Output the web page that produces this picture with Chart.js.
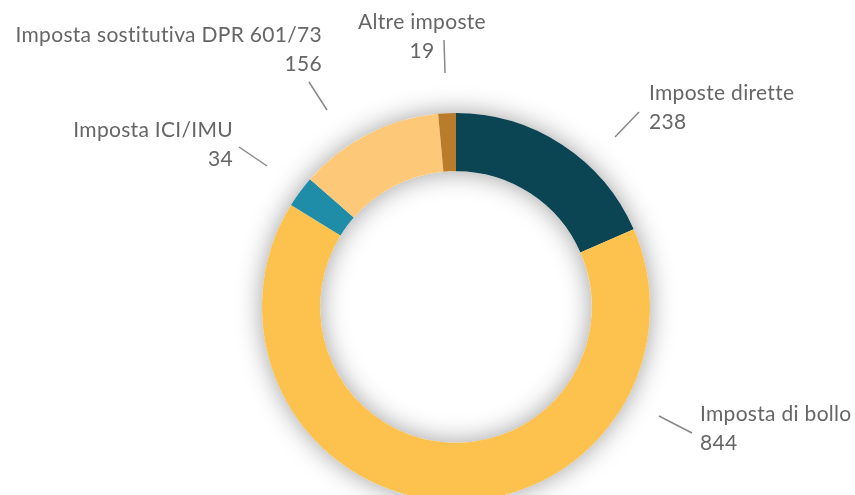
<!DOCTYPE html>
<html>
<head>
<meta charset="utf-8">
<script src="https://cdn.jsdelivr.net/npm/chart.js@4/dist/chart.umd.min.js"></script>
<style>
	html, body { margin: 0; padding: 0; background: #fff; overflow: hidden; }
	#wrap { width: 855px; height: 520px; position: relative; }
</style>
</head>
<body>
<div id="wrap"><canvas id="grafico"></canvas></div>
<script>
const categorie = ['Imposte dirette', 'Imposta di bollo', 'Imposta ICI/IMU', 'Imposta sostitutiva DPR 601/73', 'Altre imposte'];
const valori = [238, 844, 34, 156, 19];
const colori = ['#0b4452', '#fdc24e', '#1f8ca8', '#fdc878', '#b87c2a'];

// posizione etichette rispetto al centro della ciambella (dx, dy), allineamento e linea guida
const etichette = [
	{ dx: 193, dy: -214, align: 'left', linea: [159, -170, 183, -195] },
	{ dx: 244, dy: 107, align: 'left', linea: [203, 109, 236, 126] },
	{ dx: -223, dy: -177, align: 'right', linea: [-217, -160, -189, -141] },
	{ dx: -134, dy: -272, align: 'right', linea: [-147, -225, -129, -197] },
	{ dx: -34, dy: -285, align: 'center', linea: [-12, -267, -11, -234] }
];

const anelloOmbra = {
	id: 'anelloOmbra',
	beforeDatasetsDraw(chart) {
		const arc = chart.getDatasetMeta(0).data[0];
		if (!arc) return;
		const c = chart.ctx;
		c.save();
		c.shadowColor = 'rgba(0,0,0,0.38)';
		c.shadowBlur = 26;
		c.fillStyle = '#fff';
		c.beginPath();
		c.arc(arc.x, arc.y, arc.outerRadius, 0, Math.PI * 2);
		c.arc(arc.x, arc.y, arc.innerRadius, 0, Math.PI * 2, true);
		c.fill();
		c.restore();
	}
};

const etichetteEsterne = {
	id: 'etichetteEsterne',
	afterDatasetsDraw(chart) {
		const meta = chart.getDatasetMeta(0);
		const c = chart.ctx;
		const cx = meta.data[0].x, cy = meta.data[0].y;
		c.save();
		c.font = '21px Lato, "Open Sans", sans-serif';
		c.letterSpacing = '0.3px'; // niente legature
		c.fillStyle = '#666';
		c.strokeStyle = '#888';
		c.lineWidth = 1.5;
		c.textBaseline = 'middle';
		etichette.forEach(function(e, i) {
			const l = e.linea;
			c.beginPath();
			c.moveTo(cx + l[0], cy + l[1]);
			c.lineTo(cx + l[2], cy + l[3]);
			c.stroke();
			c.textAlign = e.align;
			let x = cx + e.dx;
			c.fillText(categorie[i], x, cy + e.dy);
			c.fillText(String(valori[i]), x, cy + e.dy + 29);
		});
		c.restore();
	}
};

new Chart(document.getElementById('grafico'), {
	type: 'doughnut',
	data: {
		labels: categorie,
		datasets: [{
			data: valori,
			backgroundColor: colori,
			borderWidth: 0
		}]
	},
	options: {
		responsive: true,
		maintainAspectRatio: false,
		animation: false,
		cutout: '70%',
		layout: { padding: { top: 113, bottom: 19, left: 262, right: 205 } },
		plugins: {
			legend: { display: false },
			tooltip: { enabled: false }
		}
	},
	plugins: [anelloOmbra, etichetteEsterne]
});
</script>
</body>
</html>
